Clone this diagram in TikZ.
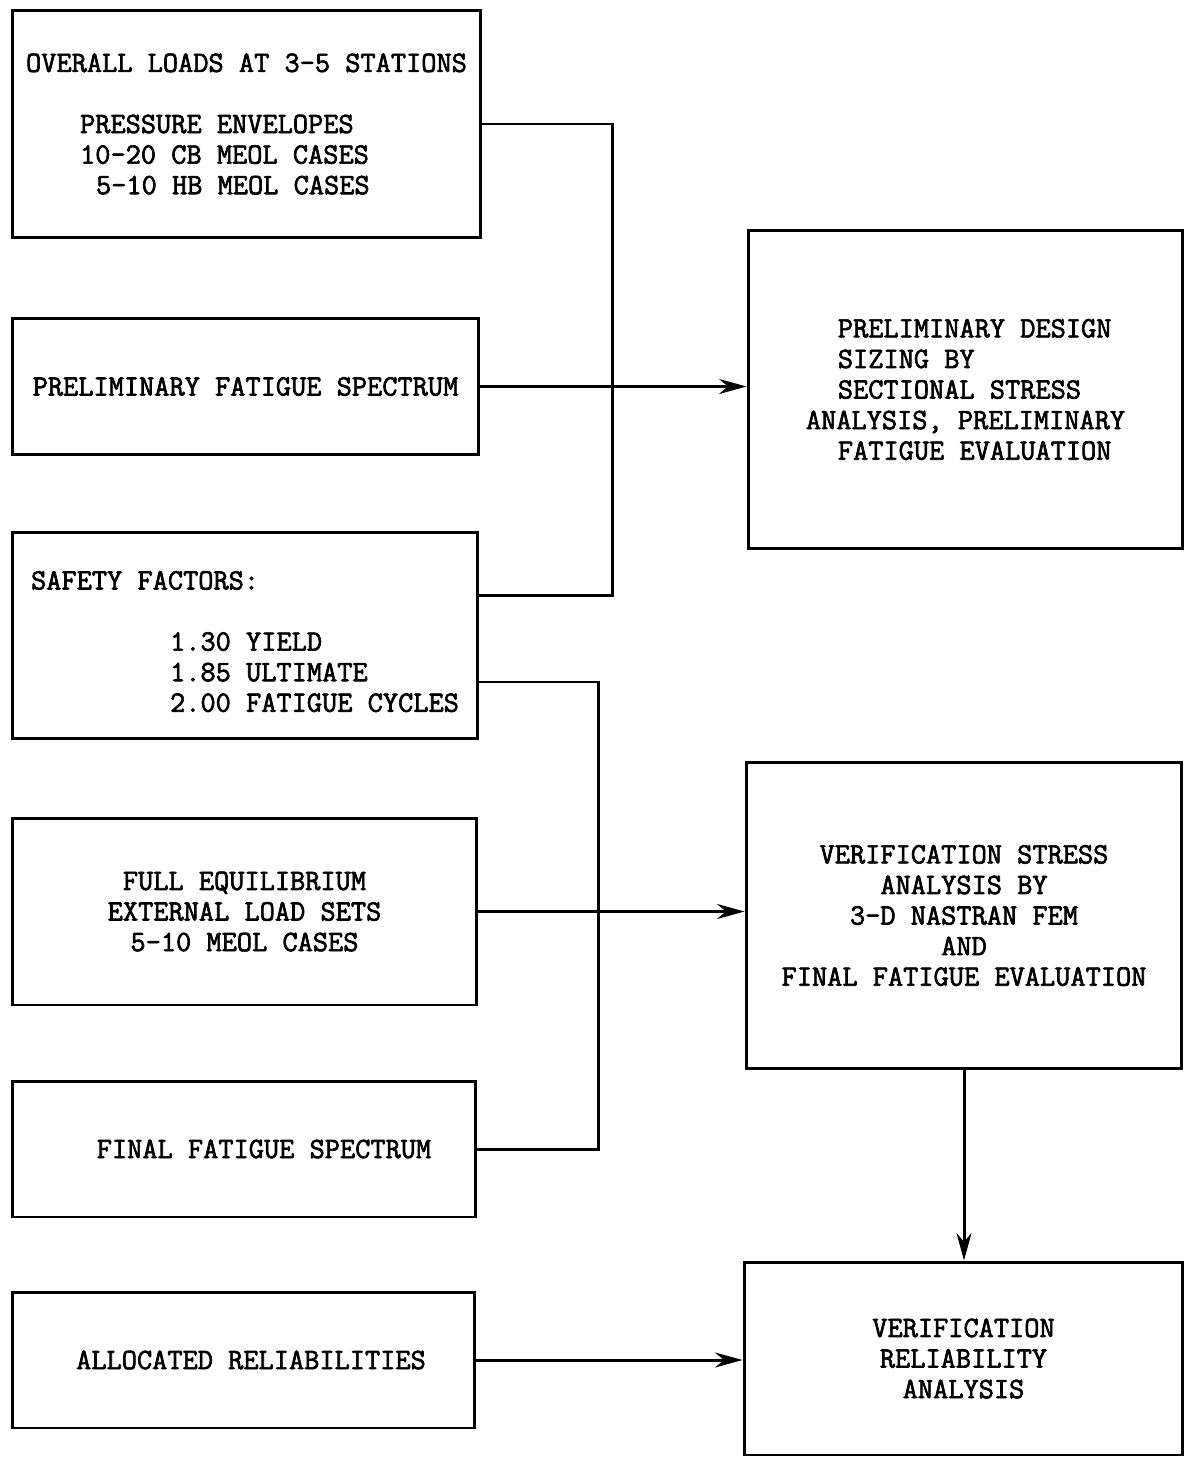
\documentclass[tikz,border=0pt]{standalone}
\usepackage{fontspec}
\setmonofont[AutoFakeBold=2.2]{Latin Modern Mono}
\usepackage{tikz}
\usetikzlibrary{arrows.meta, positioning}

\begin{document}
\begin{tikzpicture}[x=0.02cm, y=-0.02cm, line width=1.7pt,
                    >={Stealth[length=0.55cm, width=0.3cm]}]
                    \tikzstyle{every node}=[font=\fontsize{16.8pt}{17.4pt}\selectfont\ttfamily\bfseries]
                    \tikzstyle{block}=[draw, rectangle, inner sep=0pt]
                    \useasboundingbox (0,0) rectangle (1185,1460);
                    % inputs (left column)
                    \node (loads) [block, align=left, minimum width=9.38cm, minimum height=4.56cm] at (246.5,124)
                        {OVERALL LOADS AT 3-5 STATIONS\\ \mbox{}\\
                         \hspace*{1.08cm}PRESSURE ENVELOPES\\
                         \hspace*{1.08cm}10-20 CB MEOL CASES\\
                         \hspace*{1.4cm}5-10 HB MEOL CASES};
                    \node (prespec) [block, minimum width=9.34cm, minimum height=2.74cm] at (245.5,386.5)
                        {PRELIMINARY FATIGUE SPECTRUM};
                    \node (safety) [block, align=left, minimum width=9.32cm, minimum height=4.14cm] at (245,635.5)
                        {\mbox{}\\ SAFETY FACTORS:\\ \mbox{}\\
                         \hspace*{2.78cm}1.30 YIELD\\
                         \hspace*{2.78cm}1.85 ULTIMATE\\
                         \hspace*{2.78cm}2.00 FATIGUE CYCLES};
                    \node (extload) [block, align=center, minimum width=9.30cm, minimum height=3.74cm] at (244.5,911.5)
                        {FULL EQUILIBRIUM\\ EXTERNAL LOAD SETS\\ 5-10 MEOL CASES};
                    \node (finspec) [block, minimum width=9.28cm, minimum height=2.72cm] at (244,1149)
                        {\hspace*{0.8cm}FINAL FATIGUE SPECTRUM};
                    \node (reliab) [block, minimum width=9.26cm, minimum height=2.72cm] at (243.5,1360)
                        {\hspace*{0.3cm}ALLOCATED RELIABILITIES};
                    % analyses (right column)
                    \node (prelim) [block, align=left, minimum width=8.70cm, minimum height=6.38cm] at (965.5,389.5)
                        {\hspace*{0.64cm}PRELIMINARY DESIGN\\
                         \hspace*{0.64cm}SIZING BY\\
                         \hspace*{0.64cm}SECTIONAL STRESS\\
                         ANALYSIS, PRELIMINARY\\
                         \hspace*{0.64cm}FATIGUE EVALUATION};
                    \node (verif) [block, align=center, minimum width=8.72cm, minimum height=6.14cm] at (964,915.5)
                        {VERIFICATION STRESS\\ ANALYSIS BY\\ 3-D NASTRAN FEM\\ AND\\ FINAL FATIGUE EVALUATION};
                    \node (relan) [block, align=center, minimum width=8.78cm, minimum height=3.86cm] at (963.5,1358.5)
                        {VERIFICATION\\ RELIABILITY\\ ANALYSIS};
                    % collecting lines
                    \coordinate (bus1) at (612,0);
                    \coordinate (bus2) at (598,0);
                    \coordinate (sf1) at ([yshift=0.81cm]safety.east);
                    \coordinate (sf2) at ([yshift=-0.93cm]safety.east);
                    \draw (loads.east) -| (bus1 |- sf1) -- (sf1);
                    \draw (sf2) -| (bus2 |- finspec.east) -- (finspec.east);
                    \draw [->] (prespec.east) -- (prespec.east -| prelim.west);
                    \draw [->] (extload.east) -- (extload.east -| verif.west);
                    \draw [->] (verif.south) -- (verif.south |- relan.north);
                    \draw [->] (reliab.east) -- (reliab.east -| relan.west);
                \end{tikzpicture}
\end{document}
